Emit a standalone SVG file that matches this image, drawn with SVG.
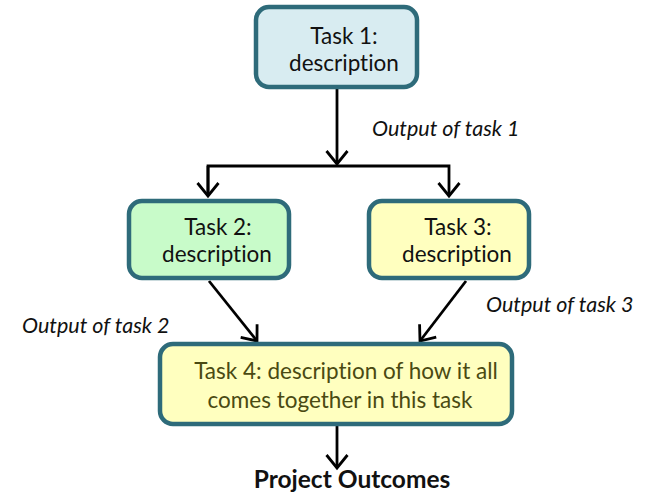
<svg xmlns="http://www.w3.org/2000/svg" width="650" height="495" viewBox="0 0 650 495">
<style>
text{font-variant-ligatures:none;font-feature-settings:"liga" 0}
.box{stroke:#2e6b7a;stroke-width:4.5}
.t{font-family:Lato,"Open Sans","Liberation Sans",sans-serif;font-size:22.5px;fill:#111;text-anchor:middle}
.t4{fill:#4a4a12}
.lbl{font-family:Lato,"Open Sans","Liberation Sans",sans-serif;font-size:21.5px;font-style:italic;fill:#111}
.b{font-family:Lato,"Open Sans","Liberation Sans",sans-serif;font-size:24.5px;font-weight:bold;fill:#111;text-anchor:middle}
.c{stroke:#000;stroke-width:2.8;fill:none}
</style>
<defs>
<marker id="ah" viewBox="-14 -14 28 28" markerWidth="28" markerHeight="28" refX="0" refY="0" orient="auto" markerUnits="userSpaceOnUse">
<path d="M-13,-10.5 L0,0 L-13,10.5" fill="none" stroke="#000" stroke-width="2.8" stroke-linejoin="miter"/>
</marker>
</defs>
<rect width="650" height="495" fill="#fff"/>
<g id="connectors">
<line class="c" x1="337" y1="89" x2="337" y2="164" marker-end="url(#ah)"/>
<polyline class="c" points="208,196 208,166 449,166 449,196" marker-end="url(#ah)"/>
<line class="c" x1="208" y1="166" x2="208" y2="196" marker-end="url(#ah)"/>
<line class="c" x1="209" y1="281" x2="257" y2="341" marker-end="url(#ah)"/>
<line class="c" x1="466" y1="281" x2="420" y2="341" marker-end="url(#ah)"/>
<line class="c" x1="337" y1="426" x2="337" y2="468" marker-end="url(#ah)"/>
</g>
<g id="task1">
<rect class="box" x="256" y="7" width="161" height="80" rx="13" fill="#d8ecf1"/>
<text class="t" x="344" y="44">Task 1:</text>
<text class="t" x="344" y="71">description</text>
</g>
<g id="task2">
<rect class="box" x="129" y="201" width="160" height="77" rx="13" fill="#c8fbc9"/>
<text class="t" x="218" y="235">Task 2:</text>
<text class="t" x="217" y="262">description</text>
</g>
<g id="task3">
<rect class="box" x="369" y="201" width="160" height="77" rx="13" fill="#ffffbf"/>
<text class="t" x="458" y="235">Task 3:</text>
<text class="t" x="457" y="262">description</text>
</g>
<g id="task4">
<rect class="box" x="160" y="344" width="352" height="80" rx="13" fill="#ffffbf"/>
<text class="t t4" x="346" y="379">Task 4: description of how it all</text>
<text class="t t4" x="340" y="408">comes together in this task</text>
</g>
<g id="labels">
<text class="lbl" x="372" y="136">Output of task 1</text>
<text class="lbl" x="22" y="333">Output of task 2</text>
<text class="lbl" x="486" y="312">Output of task 3</text>
</g>
<g id="outcome">
<text class="b" x="352" y="488">Project Outcomes</text>
</g>
</svg>
